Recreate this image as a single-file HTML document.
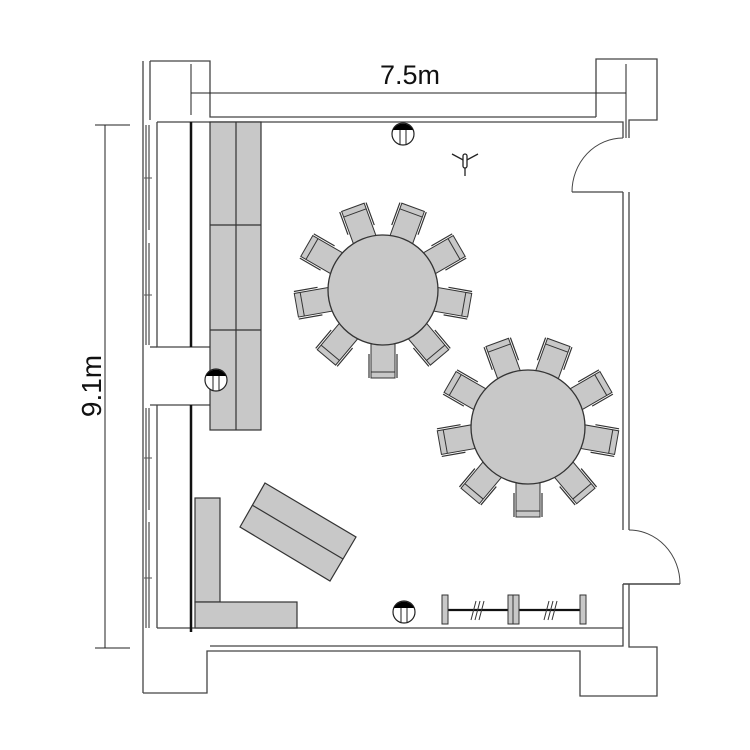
<!DOCTYPE html>
<html><head><meta charset="utf-8"><style>html,body{margin:0;padding:0;background:#fff}svg{display:block}</style></head>
<body>
<svg width="750" height="750" viewBox="0 0 750 750" xmlns="http://www.w3.org/2000/svg">
<defs>
<g id="chair">
 <rect x="-12" y="-20" width="24" height="40" fill="#c8c8c8" stroke="#333" stroke-width="1"/>
 <line x1="-12" y1="-14" x2="12" y2="-14" stroke="#333" stroke-width="1"/>
 <line x1="-14" y1="-20" x2="-14" y2="4" stroke="#333" stroke-width="1.2"/>
 <line x1="14" y1="-20" x2="14" y2="4" stroke="#333" stroke-width="1.2"/>
</g>
<g id="lamp">
 <circle cx="0" cy="0" r="11" fill="#fff" stroke="#222" stroke-width="1.2"/>
 <path d="M-10,-4 A11,11 0 0 1 10,-4 Z" fill="#000"/>
 <line x1="-3" y1="-4" x2="-3" y2="11" stroke="#222"/>
 <line x1="3" y1="-4" x2="3" y2="11" stroke="#222"/>
</g>
</defs>
<g fill="none" stroke="#444" stroke-width="1.3">
 <path d="M143,61 V693"/>
 <path d="M150,61 H210 V117 H596"/>
 <path d="M150,61 V120"/>
 <path d="M157,122 H623 V138"/>
 <path d="M596,117 V59 H657 V120 H629 V138"/>
 <path d="M623,192 V530"/>
 <path d="M629,192 V530"/>
 <path d="M572,192 H623"/>
 <path d="M623,138 A51,54 0 0 0 572,192" stroke-width="1"/>
 <path d="M629,530 A51,54 0 0 1 680,584" stroke-width="1"/>
 <path d="M623,584 H680" stroke-width="1.6"/>
 <path d="M623,584 V646 H210"/>
 <path d="M629,584 V647 H657 V696 H580 V651 H207 V693 H143"/>
 <path d="M157,628 H623"/>
 <path d="M157,122 V347 H210"/>
 <path d="M150,405 H210"/>
 <path d="M157,405 V628"/>
 <path d="M150,347 H157"/>
 <path d="M146,125 V345 M149,125 V230 M149,243 V345" stroke="#777" stroke-width="1.6"/>
 <path d="M146,408 V628 M149,408 V510 M149,522 V628" stroke="#777" stroke-width="1.6"/>
 <path d="M144,178 H152 M144,295 H152 M144,458 H152 M144,578 H152" stroke="#555" stroke-width="1"/>
 <path d="M191,93 H626 M191,64 V115 M626,64 V138" stroke="#222" stroke-width="1"/>
 <path d="M105,125 V648 M95,125 H130 M95,648 H130" stroke="#222" stroke-width="1"/>
</g>
<path d="M191,122 V347 M191,405 V632" stroke="#111" stroke-width="2.5"/>
<text x="410" y="84" font-family="Liberation Sans, sans-serif" font-size="27" text-anchor="middle" fill="#111">7.5m</text>
<text transform="translate(101,386) rotate(-90)" font-family="Liberation Sans, sans-serif" font-size="28" text-anchor="middle" fill="#111">9.1m</text>
<g fill="#c8c8c8" stroke="#333" stroke-width="1.2">
 <rect x="210" y="122" width="51" height="308"/>
 <path d="M236,122 V430 M210,225 H261 M210,330 H261" fill="none"/>
 <rect x="195" y="498" width="25" height="104"/>
 <rect x="195" y="602" width="102" height="26"/>
 <polygon points="265,483 356,537 330,581 240,527"/>
 <path d="M252,505 L343,559" fill="none"/>
</g>
<g transform="translate(383,290)">
 <g transform="rotate(-110)"><use href="#chair" transform="translate(68,0) rotate(90)"/></g>
 <g transform="rotate(-70)"><use href="#chair" transform="translate(68,0) rotate(90)"/></g>
 <g transform="rotate(-30)"><use href="#chair" transform="translate(68,0) rotate(90)"/></g>
 <g transform="rotate(10)"><use href="#chair" transform="translate(68,0) rotate(90)"/></g>
 <g transform="rotate(50)"><use href="#chair" transform="translate(68,0) rotate(90)"/></g>
 <g transform="rotate(90)"><use href="#chair" transform="translate(68,0) rotate(90)"/></g>
 <g transform="rotate(130)"><use href="#chair" transform="translate(68,0) rotate(90)"/></g>
 <g transform="rotate(170)"><use href="#chair" transform="translate(68,0) rotate(90)"/></g>
 <g transform="rotate(210)"><use href="#chair" transform="translate(68,0) rotate(90)"/></g>
 <circle r="55" fill="#c8c8c8" stroke="#333" stroke-width="1.3"/>
</g>
<g transform="translate(528,427)">
 <g transform="rotate(-110)"><use href="#chair" transform="translate(70,0) rotate(90)"/></g>
 <g transform="rotate(-70)"><use href="#chair" transform="translate(70,0) rotate(90)"/></g>
 <g transform="rotate(-30)"><use href="#chair" transform="translate(70,0) rotate(90)"/></g>
 <g transform="rotate(10)"><use href="#chair" transform="translate(70,0) rotate(90)"/></g>
 <g transform="rotate(50)"><use href="#chair" transform="translate(70,0) rotate(90)"/></g>
 <g transform="rotate(90)"><use href="#chair" transform="translate(70,0) rotate(90)"/></g>
 <g transform="rotate(130)"><use href="#chair" transform="translate(70,0) rotate(90)"/></g>
 <g transform="rotate(170)"><use href="#chair" transform="translate(70,0) rotate(90)"/></g>
 <g transform="rotate(210)"><use href="#chair" transform="translate(70,0) rotate(90)"/></g>
 <circle r="57" fill="#c8c8c8" stroke="#333" stroke-width="1.3"/>
</g>
<use href="#lamp" transform="translate(403,134)"/>
<use href="#lamp" transform="translate(216,380)"/>
<use href="#lamp" transform="translate(404,612)"/>
<g stroke="#222" stroke-width="1.3" fill="#fff">
 <path d="M452,154 L465,161 L478,154" fill="none"/>
 <line x1="465" y1="161" x2="465" y2="176"/>
 <rect x="463" y="154" width="4" height="14" rx="2"/>
</g>
<g stroke="#333" stroke-width="1" fill="#c8c8c8">
 <line x1="443" y1="610" x2="586" y2="610" stroke="#111" stroke-width="2.2"/>
 <rect x="442" y="595" width="6" height="29"/>
 <rect x="508" y="595" width="5" height="29"/>
 <rect x="513" y="595" width="6" height="29"/>
 <rect x="580" y="595" width="6" height="29"/>
 <path d="M471,620 L476,601 M475,620 L480,601 M479,620 L484,601 M544,620 L549,601 M548,620 L553,601 M552,620 L557,601" fill="none"/>
</g>
</svg>
</body></html>
